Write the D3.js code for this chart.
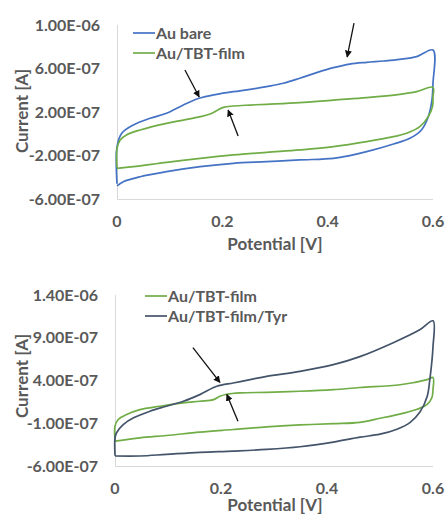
<!DOCTYPE html>
<html>
<head>
<meta charset="utf-8">
<script src="https://cdn.jsdelivr.net/npm/d3@7"></script>
<style>
  body { margin: 0; background: #fff; }
  text { font-family: Lato, "Open Sans", sans-serif; fill: #595959; }
</style>
</head>
<body>
<svg id="chart" width="445" height="515"></svg>
<script>
// potential [V], current [x1e-7 A]
const auBare = [
  [0, -4.6], [0, -1.2], [0.009, 0.04], [0.031, 0.8], [0.063, 1.42], [0.094, 1.88], [0.126, 2.64],
  [0.156, 3.26], [0.189, 3.62], [0.221, 3.87], [0.253, 4.08], [0.284, 4.33], [0.316, 4.64],
  [0.347, 5.1], [0.379, 5.62], [0.411, 6.08], [0.442, 6.41], [0.474, 6.57], [0.506, 6.69],
  [0.537, 6.84], [0.569, 7.09], [0.6, 7.7],
  [0.6, 4.64], [0.598, 3.1], [0.591, 1.57], [0.578, 0.35], [0.556, -0.42], [0.525, -0.94],
  [0.474, -1.65], [0.442, -2.01], [0.411, -2.26], [0.347, -2.41], [0.284, -2.57], [0.221, -2.72],
  [0.158, -3.03], [0.094, -3.49], [0.044, -3.95], [0.012, -4.41], [0, -4.8]
]
const tbtFilmA = [
  [0, -3.1], [0, -1.34], [0.006, -0.57], [0.018, -0.11], [0.044, 0.35], [0.094, 0.96], [0.126, 1.26],
  [0.158, 1.57], [0.177, 1.82], [0.189, 2.12], [0.202, 2.43], [0.221, 2.55], [0.253, 2.64],
  [0.284, 2.71], [0.347, 2.86], [0.411, 3.1], [0.474, 3.32], [0.537, 3.62], [0.569, 3.87], [0.6, 4.27],
  [0.6, 3.41], [0.599, 2.49], [0.591, 1.57], [0.575, 0.65], [0.55, 0.04], [0.525, -0.27],
  [0.474, -0.73], [0.411, -1.19], [0.347, -1.49], [0.284, -1.71], [0.221, -1.95], [0.158, -2.26],
  [0.094, -2.63], [0.031, -3.03], [0, -3.18]
]
const tbtFilmB = [
  [0, -3.0], [0, -1.34], [0.006, -0.56], [0.022, 0.02], [0.047, 0.6], [0.085, 0.99], [0.129, 1.38],
  [0.16, 1.57], [0.186, 1.77], [0.198, 2.16], [0.211, 2.39], [0.236, 2.55], [0.286, 2.62],
  [0.349, 2.74], [0.412, 2.93], [0.462, 3.18], [0.538, 3.5], [0.589, 4.11], [0.6, 4.35],
  [0.6, 2.95], [0.598, 2.02], [0.589, 1.2], [0.57, 0.63], [0.543, 0.16], [0.5, -0.42],
  [0.462, -0.89], [0.412, -1.05], [0.349, -1.2], [0.286, -1.42], [0.223, -1.73], [0.16, -2.04],
  [0.097, -2.43], [0.047, -2.7], [0, -3.09]
]
const tbtTyr = [
  [0, -4.8], [0, -2.7], [0.003, -2.11], [0.016, -1.14], [0.035, -0.37], [0.066, 0.41], [0.097, 0.99],
  [0.129, 1.57], [0.16, 2.35], [0.192, 3.32], [0.223, 3.71], [0.255, 4.1], [0.286, 4.49],
  [0.349, 5.07], [0.412, 5.85], [0.462, 6.79], [0.525, 8.42], [0.575, 9.93], [0.6, 10.98],
  [0.6, 7.95], [0.594, 4.11], [0.589, 2.14], [0.575, 0.28], [0.557, -0.89], [0.532, -1.7],
  [0.5, -2.28], [0.462, -2.63], [0.412, -3.2], [0.349, -3.75], [0.286, -4.06],
  [0.223, -4.25], [0.16, -4.4], [0.097, -4.64], [0.047, -4.83], [0, -4.83]
]

const xTicks = [0, 0.2, 0.4, 0.6]
const yTicksTop = [-6e-7, -2e-7, 2e-7, 6e-7, 1e-6]
const yTicksBottom = [-6e-7, -1e-7, 4e-7, 9e-7, 1.4e-6]

// arrows: [from V, from I(e-7), to V, to I(e-7)]
const arrowsTop = [[0.45, 10.18, 0.437, 7.06], [0.129, 5.86, 0.156, 3.38], [0.23, -0.21, 0.211, 2.18]]
const arrowsBottom = [[0.147, 7.84, 0.198, 3.77], [0.232, -0.77, 0.211, 2.37]]

const colors = { bare: "#4472c4", film: "#70ad47", tyr: "#44546a" }

const svg = d3.select("#chart")

svg.append("defs").append("marker")
  .attr("id", "head")
  .attr("viewBox", "0 0 10 10")
  .attr("refX", 9).attr("refY", 5)
  .attr("markerWidth", 7).attr("markerHeight", 7)
  .attr("markerUnits", "userSpaceOnUse")
  .attr("orient", "auto")
  .append("path").attr("d", "M0,0L10,5L0,10z").attr("fill", "#111")

const fmt = v => v.toExponential(2).toUpperCase().replace(/E([+-])(\d)$/, "E$10$2")

function drawPanel(cfg) {
  const x = d3.scaleLinear().domain([0, 0.6]).range([cfg.left, 433])
  const y = d3.scaleLinear().domain(cfg.yDomain).range([cfg.bottom, cfg.top])
  const g = svg.append("g")

  // axis lines
  g.append("line").attr("x1", cfg.left + 0.5).attr("x2", cfg.left + 0.5)
    .attr("y1", cfg.top).attr("y2", cfg.bottom).attr("stroke", "#d9d9d9")
  g.append("line").attr("x1", cfg.left).attr("x2", 433)
    .attr("y1", cfg.bottom + 0.5).attr("y2", cfg.bottom + 0.5).attr("stroke", "#d9d9d9")

  g.selectAll(".yt").data(cfg.yTicks).join("text")
    .attr("x", cfg.left - 17).attr("y", d => y(d) + 5.5)
    .attr("text-anchor", "end")
    .style("font-size", "16px").style("font-weight", 700)
    .text(fmt)

  g.selectAll(".xt").data(xTicks).join("text")
    .attr("x", d => x(d)).attr("y", cfg.bottom + 28)
    .attr("text-anchor", "middle")
    .style("font-size", "16px").style("font-weight", 700)
    .text(d => d)

  g.append("text")
    .attr("x", 275).attr("y", cfg.bottom + cfg.titleGap)
    .attr("text-anchor", "middle")
    .style("font-size", "17px").style("font-weight", 700)
    .text("Potential [V]")

  g.append("text")
    .attr("transform", `translate(28,${cfg.yTitle}) rotate(-90)`)
    .attr("text-anchor", "middle")
    .style("font-size", "17px").style("font-weight", 700)
    .text("Current [A]")

  const line = d3.line()
    .x(d => x(d[0]))
    .y(d => y(d[1] * 1e-7))
    .curve(d3.curveCatmullRom.alpha(0.5))

  cfg.series.forEach(s => {
    g.append("path")
      .attr("d", line(s.data))
      .attr("fill", "none")
      .attr("stroke", s.color)
      .attr("stroke-width", 1.7)
  })

  cfg.series.forEach((s, i) => {
    const ly = cfg.legendY + i * 20
    g.append("line")
      .attr("x1", cfg.legendX).attr("x2", cfg.legendX + 22)
      .attr("y1", ly).attr("y2", ly)
      .attr("stroke", s.color).attr("stroke-width", 1.7)
    g.append("text")
      .attr("x", cfg.legendX + 23).attr("y", ly + 5.5)
      .style("font-size", "16px").style("font-weight", 700)
      .text(s.name)
  })

  g.selectAll(".arrow").data(cfg.arrows).join("line")
    .attr("x1", d => x(d[0])).attr("y1", d => y(d[1] * 1e-7))
    .attr("x2", d => x(d[2])).attr("y2", d => y(d[3] * 1e-7))
    .attr("stroke", "#111").attr("stroke-width", 1.3)
    .attr("marker-end", "url(#head)")
}

drawPanel({
  left: 117, top: 25, bottom: 199, yDomain: [-6e-7, 1e-6], yTicks: yTicksTop, yTitle: 111,
  titleGap: 51, legendX: 133, legendY: 33, arrows: arrowsTop,
  series: [
    { name: "Au bare", color: colors.bare, data: auBare },
    { name: "Au/TBT-film", color: colors.film, data: tbtFilmA }
  ]
})

drawPanel({
  left: 115, top: 295, bottom: 466, yDomain: [-6e-7, 1.4e-6], yTicks: yTicksBottom, yTitle: 376,
  titleGap: 45, legendX: 145, legendY: 296, arrows: arrowsBottom,
  series: [
    { name: "Au/TBT-film", color: colors.film, data: tbtFilmB },
    { name: "Au/TBT-film/Tyr", color: colors.tyr, data: tbtTyr }
  ]
})
</script>
</body>
</html>
